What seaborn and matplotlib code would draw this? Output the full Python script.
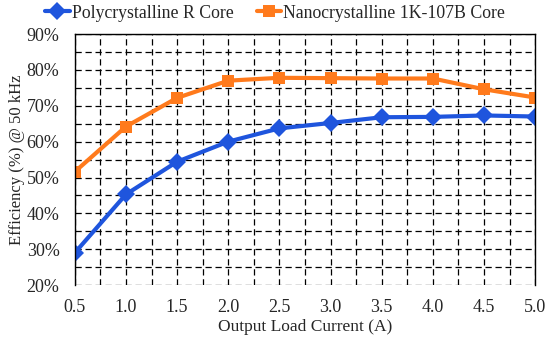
import numpy as np
import pandas as pd
import matplotlib
matplotlib.use("Agg")
import matplotlib.pyplot as plt
import seaborn as sns
from matplotlib.ticker import MultipleLocator, FuncFormatter

current = [0.5, 1.0, 1.5, 2.0, 2.5, 3.0, 3.5, 4.0, 4.5, 5.0]
poly_eff = [29.0, 45.3, 54.4, 60.0, 63.7, 65.2, 66.8, 66.9, 67.3, 67.0]
nano_eff = [51.6, 64.2, 72.2, 77.0, 77.8, 77.7, 77.6, 77.6, 74.6, 72.3]
series_names = ["Polycrystalline R Core", "Nanocrystalline 1K-107B Core"]

df = pd.concat([
    pd.DataFrame({"current": current, "eff": poly_eff, "core": series_names[0]}),
    pd.DataFrame({"current": current, "eff": nano_eff, "core": series_names[1]}),
])

sns.set_style("white")
plt.rcParams["font.family"] = ["Liberation Serif", "DejaVu Serif"]

fig = plt.figure(figsize=(5.5, 3.37), dpi=100)
ax = fig.add_axes([0.136, 0.154, 0.837, 0.745])

sns.lineplot(data=df, x="current", y="eff", hue="core", style="core",
             markers={series_names[0]: "D", series_names[1]: "s"}, dashes=False,
             palette={series_names[0]: "#1f55dd", series_names[1]: "#ff7a1c"},
             markersize=9, linewidth=3, markeredgewidth=0, ax=ax)

ax.set_xlim(0.5, 5.0)
ax.set_ylim(20, 90)
ax.xaxis.set_major_locator(MultipleLocator(0.5))
ax.xaxis.set_minor_locator(MultipleLocator(0.25))
ax.yaxis.set_major_locator(MultipleLocator(10))
ax.yaxis.set_minor_locator(MultipleLocator(5))
ax.xaxis.set_major_formatter(FuncFormatter(lambda v, p: f"{v:.1f}"))
ax.yaxis.set_major_formatter(FuncFormatter(lambda v, p: f"{v:.0f}%"))
ax.grid(which="both", color="black", linestyle=(0, (5, 3)), linewidth=0.9)
ax.set_axisbelow(True)
for s in ["left", "right", "top"]:
    ax.spines[s].set_color("black")
    ax.spines[s].set_linewidth(1.0)
ax.spines["bottom"].set_visible(False)
ax.tick_params(axis="both", which="both", length=0, labelsize=13)
ax.tick_params(axis="x", pad=10)
ax.tick_params(axis="y", pad=11)

ax.set_xlabel("Output Load Current (A)", fontsize=12.5, labelpad=2)
ax.set_ylabel("Efficiency (%) @ 50 kHz", fontsize=12, labelpad=1)

ax.legend(loc="lower center", bbox_to_anchor=(0.435, 1.0), ncol=2, frameon=False,
          fontsize=12.8, handlelength=1.4, handletextpad=0.1, columnspacing=1.3,
          borderaxespad=0.3)

fig.savefig("out.png", dpi=100)
